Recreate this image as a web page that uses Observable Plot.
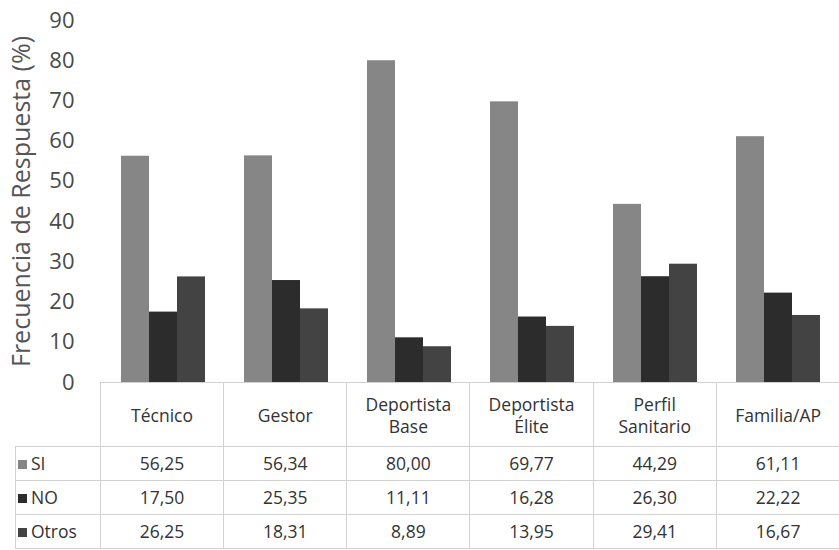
<!DOCTYPE html>
<html>
<head>
<meta charset="utf-8">
<script src="https://cdn.jsdelivr.net/npm/d3@7"></script>
<script src="https://cdn.jsdelivr.net/npm/@observablehq/plot@0.6"></script>
<style>
  html, body { margin: 0; padding: 0; background: #fff; }
  #wrap { position: relative; width: 839px; height: 550px; overflow: hidden; font-family: "Open Sans", sans-serif; }
  #tbl { position: absolute; left: 15px; top: 382px; border-collapse: collapse; table-layout: fixed; color: #333; font-size: 17.5px; }
  #tbl td { border: 1px solid #d2d2d2; text-align: center; padding: 0; line-height: 1.2; }
  #tbl td.rowlab { text-align: left; padding-left: 2px; }
  #tbl td .ln { display: block; line-height: 22px; height: 22px; }
  .sw { display: inline-block; width: 9px; height: 9px; margin-right: 4px; vertical-align: 1px; }
</style>
</head>
<body>
<div id="wrap"></div>
<script>
const categories = ["Técnico", "Gestor", "Deportista Base", "Deportista Élite", "Perfil Sanitario", "Familia/AP"];
const headerLines = [["Técnico"], ["Gestor"], ["Deportista", "Base"], ["Deportista", "Élite"], ["Perfil", "Sanitario"], ["Familia/AP"]];
const series = ["SI", "NO", "Otros"];
const valuesSI = [56.25, 56.34, 80.00, 69.77, 44.29, 61.11];
const valuesNO = [17.50, 25.35, 11.11, 16.28, 26.30, 22.22];
const valuesOtros = [26.25, 18.31, 8.89, 13.95, 29.41, 16.67];
const yTicks = [0, 10, 20, 30, 40, 50, 60, 70, 80, 90];
const seriesColors = ["#868686", "#2c2c2c", "#434343"];
const yLabel = "Frecuencia de Respuesta (%)";

const seriesValues = [valuesSI, valuesNO, valuesOtros];
const rows = categories.flatMap((c, i) => series.map((s, j) => ({category: c, series: s, value: seriesValues[j][i]})));

const W = 839, ML = 100;
const chart = Plot.plot({
  width: W,
  height: 386,
  marginLeft: ML,
  marginRight: 0,
  marginTop: 20,
  marginBottom: 4,
  fx: {domain: categories, padding: 0, axis: null, label: null},
  x: {domain: series, paddingInner: 0, paddingOuter: 0.64, axis: null},
  y: {domain: [0, 90]},
  color: {domain: series, range: seriesColors},
  style: {fontFamily: "Open Sans", fontSize: "22px", color: "#4a4a4a", background: "white", overflow: "visible"},
  marks: [
    Plot.axisY({ticks: yTicks, tickSize: 0, tickPadding: 27, fontSize: 22, label: null}),
    Plot.axisY({ticks: [], tickSize: 0, fontSize: 25, fill: "#555", label: yLabel, labelAnchor: "center", labelOffset: 89, labelArrow: "none"}),
    Plot.barY(rows, {fx: "category", x: "series", y: "value", fill: "series"}),
    Plot.ruleY([0], {stroke: "#c8c8c8", strokeWidth: 1})
  ]
});
const wrap = document.getElementById("wrap");
wrap.appendChild(chart);

// data table below the chart
const step = (W - ML) / categories.length;
const fmt = v => v.toFixed(2).replace(".", ",");
const tbl = document.createElement("table");
tbl.id = "tbl";
tbl.style.width = (W - 15) + "px";
const cg = document.createElement("colgroup");
const c0 = document.createElement("col"); c0.style.width = (ML - 15) + "px"; cg.appendChild(c0);
categories.forEach(() => { const c = document.createElement("col"); c.style.width = step + "px"; cg.appendChild(c); });
tbl.appendChild(cg);
const hr = document.createElement("tr");
hr.style.height = "64px";
const blank = document.createElement("td");
blank.style.borderTop = "none"; blank.style.borderLeft = "none";
hr.appendChild(blank);
headerLines.forEach((lines, i) => {
  const td = document.createElement("td");
  td.innerHTML = lines.map(l => `<span class="ln">${l}</span>`).join("");
  if (i === headerLines.length - 1) td.style.borderRight = "none";
  hr.appendChild(td);
});
tbl.appendChild(hr);
series.forEach((s, j) => {
  const tr = document.createElement("tr");
  tr.style.height = "34px";
  const lab = document.createElement("td");
  lab.className = "rowlab";
  lab.innerHTML = `<span class="sw" style="background:${seriesColors[j]}"></span>${s}`;
  tr.appendChild(lab);
  seriesValues[j].forEach((v, i) => {
    const td = document.createElement("td");
    td.textContent = fmt(v);
    if (i === categories.length - 1) td.style.borderRight = "none";
    tr.appendChild(td);
  });
  tbl.appendChild(tr);
});
wrap.appendChild(tbl);
</script>
</body>
</html>
